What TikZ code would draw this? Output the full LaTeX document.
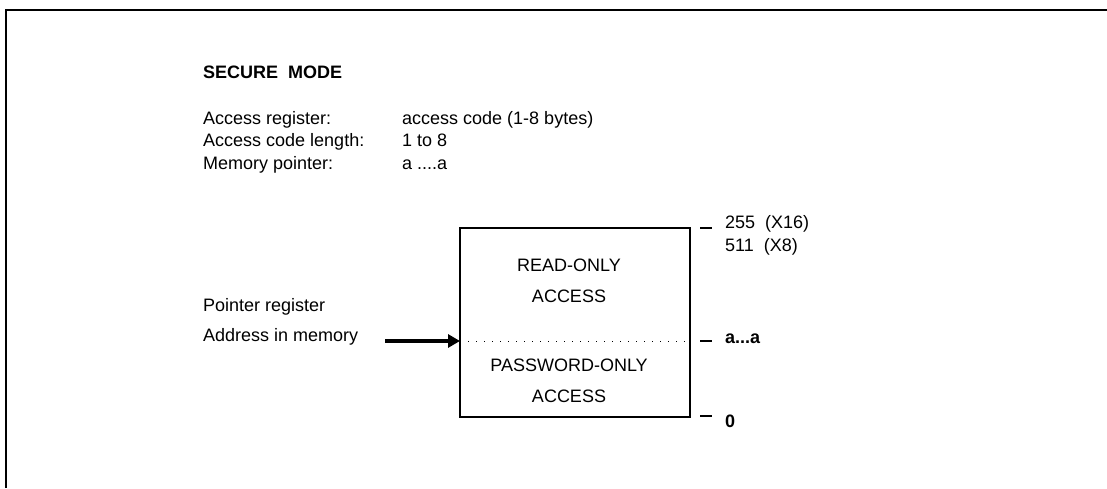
\documentclass[tikz,border=0pt]{standalone}
\usepackage{fontspec}
\setmainfont{Liberation Sans}
\usetikzlibrary{arrows.meta}
\begin{document}
\begin{tikzpicture}[x=1pt,y=1pt,
  txt/.style={inner sep=0pt,anchor=base west,font=\fontsize{18}{22}\selectfont},
  lbl/.style={inner sep=0pt,anchor=base,font=\fontsize{18}{22}\selectfont},
  tick/.style={line width=1.4pt},
  membox/.style={draw,line width=1.4pt,minimum width=230pt,minimum height=189pt,inner sep=0pt}]
\useasboundingbox (0,0) rectangle (1107,488);
% frame
\draw[line width=2.5pt] (6,0) -- (6,478) -- (1107,478);
% header
\node[txt,font=\fontsize{18}{22}\selectfont\bfseries] (title) at (203,409.5) {SECURE\ \ MODE};
\node[txt] (r1a) at (203,363.5) {Access register:};
\node[txt] (r1b) at (402,363.5) {access code (1-8 bytes)};
\node[txt] (r2a) at (203,341) {Access code length:};
\node[txt] (r2b) at (402,341) {1 to 8};
\node[txt] (r3a) at (203,318.5) {Memory pointer:};
\node[txt] (r3b) at (402,318.5) {a ....a};
% memory box
\node[membox] (mem) at (575,165.5) {};
\coordinate (divL) at (460,147);
\coordinate (divR) at (690,147);
\draw[line width=1pt,dash pattern=on 1pt off 7pt] (divL) -- (divR);
\node[lbl] (ro1) at (569,216.5) {READ-ONLY};
\node[lbl] (ro2) at (569,185.5) {ACCESS};
\node[lbl] (pw1) at (569,116.5) {PASSWORD-ONLY};
\node[lbl] (pw2) at (569,85.5) {ACCESS};
% pointer
\node[txt] (preg) at (203,176.5) {Pointer register};
\node[txt] (addr) at (203,146.5) {Address in memory};
\coordinate (arrS) at (385,147);
\draw[line width=4.5pt,-{Triangle[length=12pt,width=13pt]}] (arrS) -- (divL);
% ticks and values
\coordinate (t1a) at (700,260); \coordinate (t1b) at (712,260);
\coordinate (t2a) at (700,147); \coordinate (t2b) at (712,147);
\coordinate (t3a) at (700,72);  \coordinate (t3b) at (712,72);
\draw[tick] (t1a) -- (t1b);
\draw[tick,line width=2pt] (t2a) -- (t2b);
\draw[tick] (t3a) -- (t3b);
\node[txt] (v1) at (725,259.5) {255\ \ (X16)};
\node[txt] (v2) at (725,236.5) {511\ \ (X8)};
\node[txt,font=\fontsize{18}{22}\selectfont\bfseries] (v3) at (725,144.5) {a...a};
\node[txt,font=\fontsize{18}{22}\selectfont\bfseries] (v4) at (725,60.5) {0};
\end{tikzpicture}
\end{document}
